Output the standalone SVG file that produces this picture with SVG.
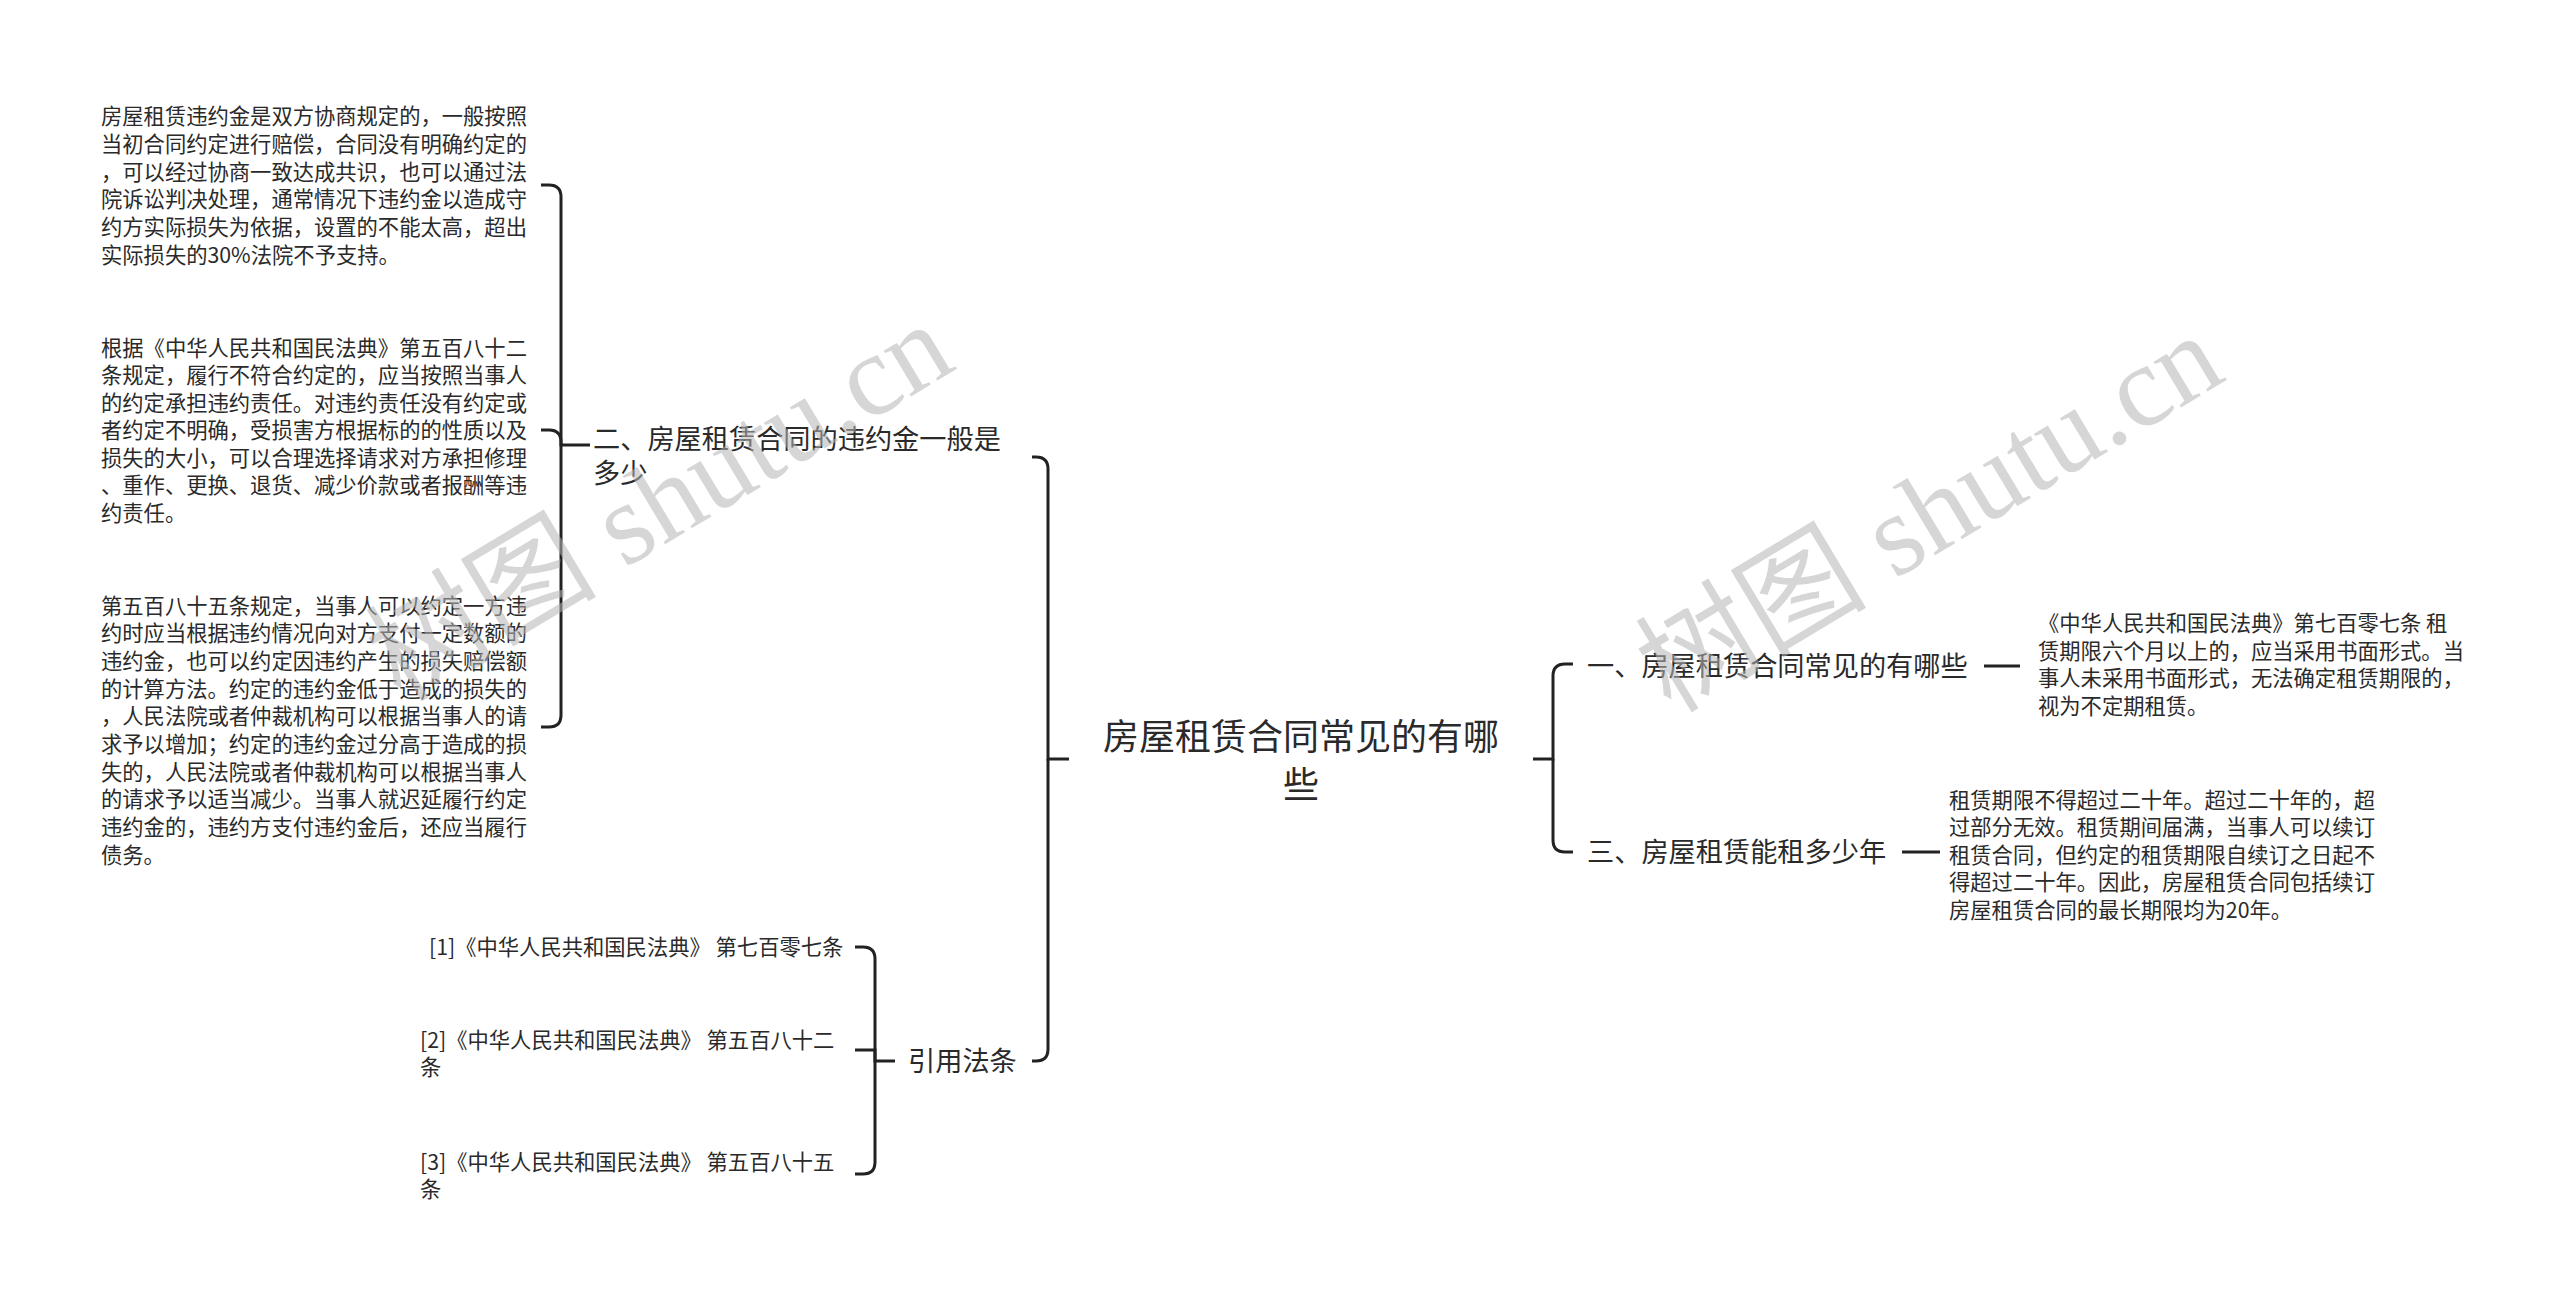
<svg xmlns="http://www.w3.org/2000/svg" width="2560" height="1304" viewBox="0 0 2560 1304">
<style>
.t{font-family:"Noto Sans CJK SC","Noto Sans",sans-serif;fill:#2a2a2a}
.root{font-size:36px}
.sub{font-size:27.2px}
.leaf{font-size:21.3px}
.c{fill:none;stroke:#222;stroke-width:3;stroke-linecap:butt}
.wm{font-family:"Liberation Serif","Noto Sans CJK SC",serif;font-size:116px;fill:#b4b4b4;fill-opacity:0.55}
</style>
<rect width="2560" height="1304" fill="#ffffff"/>
<g id="connectors">
<path class="c" d="M1069 759 H1048 V469 Q1048 457 1036 457 H1032"/>
<path class="c" d="M1048 759 V1049 Q1048 1061 1036 1061 H1032"/>
<path class="c" d="M1533 759 H1553 V676 Q1553 664 1565 664 H1573"/>
<path class="c" d="M1553 759 V840 Q1553 852 1565 852 H1573"/>
<path class="c" d="M590 445 H561 V197 Q561 185 549 185 H541"/>
<path class="c" d="M561 445 V442 Q561 430 549 430 H541"/>
<path class="c" d="M561 445 V715 Q561 727 549 727 H541"/>
<path class="c" d="M895 1061 H875 V959 Q875 947 863 947 H855"/>
<path class="c" d="M875 1061 V1050 H855"/>
<path class="c" d="M875 1061 V1162 Q875 1174 863 1174 H855"/>
<path class="c" d="M1984 666 H2020"/>
<path class="c" d="M1902 852 H1940"/>
</g>
<g id="root">
<text class="t root" text-anchor="middle" x="1301" y="750">房屋租赁合同常见的有哪</text>
<text class="t root" text-anchor="middle" x="1301" y="798">些</text>
</g>
<g id="n2">
<text class="t sub" x="593" y="449">二、房屋租赁合同的违约金一般是</text>
<text class="t sub" x="593" y="483">多少</text>
</g>
<g id="n2-leaf1">
<text class="t leaf" x="101" y="124">房屋租赁违约金是双方协商规定的，一般按照</text>
<text class="t leaf" x="101" y="151.8">当初合同约定进行赔偿，合同没有明确约定的</text>
<text class="t leaf" x="101" y="179.6">，可以经过协商一致达成共识，也可以通过法</text>
<text class="t leaf" x="101" y="207.4">院诉讼判决处理，通常情况下违约金以造成守</text>
<text class="t leaf" x="101" y="235.2">约方实际损失为依据，设置的不能太高，超出</text>
<text class="t leaf" x="101" y="263">实际损失的30%法院不予支持。</text>
</g>
<g id="n2-leaf2">
<text class="t leaf" x="101" y="355.5">根据《中华人民共和国民法典》第五百八十二</text>
<text class="t leaf" x="101" y="383">条规定，履行不符合约定的，应当按照当事人</text>
<text class="t leaf" x="101" y="410.5">的约定承担违约责任。对违约责任没有约定或</text>
<text class="t leaf" x="101" y="438">者约定不明确，受损害方根据标的的性质以及</text>
<text class="t leaf" x="101" y="465.5">损失的大小，可以合理选择请求对方承担修理</text>
<text class="t leaf" x="101" y="493">、重作、更换、退货、减少价款或者报酬等违</text>
<text class="t leaf" x="101" y="520.5">约责任。</text>
</g>
<g id="n2-leaf3">
<text class="t leaf" x="101" y="613.5">第五百八十五条规定，当事人可以约定一方违</text>
<text class="t leaf" x="101" y="641.2">约时应当根据违约情况向对方支付一定数额的</text>
<text class="t leaf" x="101" y="668.9">违约金，也可以约定因违约产生的损失赔偿额</text>
<text class="t leaf" x="101" y="696.6">的计算方法。约定的违约金低于造成的损失的</text>
<text class="t leaf" x="101" y="724.3">，人民法院或者仲裁机构可以根据当事人的请</text>
<text class="t leaf" x="101" y="752">求予以增加；约定的违约金过分高于造成的损</text>
<text class="t leaf" x="101" y="779.7">失的，人民法院或者仲裁机构可以根据当事人</text>
<text class="t leaf" x="101" y="807.4">的请求予以适当减少。当事人就迟延履行约定</text>
<text class="t leaf" x="101" y="835.1">违约金的，违约方支付违约金后，还应当履行</text>
<text class="t leaf" x="101" y="862.8">债务。</text>
</g>
<g id="refs">
<text class="t sub" x="908" y="1071">引用法条</text>
</g>
<g id="ref1">
<text class="t leaf" x="429" y="954.5">[1]《中华人民共和国民法典》 第七百零七条</text>
</g>
<g id="ref2">
<text class="t leaf" x="420" y="1047.5">[2]《中华人民共和国民法典》 第五百八十二</text>
<text class="t leaf" x="420" y="1075">条</text>
</g>
<g id="ref3">
<text class="t leaf" x="420" y="1169.5">[3]《中华人民共和国民法典》 第五百八十五</text>
<text class="t leaf" x="420" y="1197">条</text>
</g>
<g id="n1">
<text class="t sub" x="1587" y="676">一、房屋租赁合同常见的有哪些</text>
</g>
<g id="n1-leaf">
<text class="t leaf" x="2038" y="631">《中华人民共和国民法典》第七百零七条 租</text>
<text class="t leaf" x="2038" y="658.5">赁期限六个月以上的，应当采用书面形式。当</text>
<text class="t leaf" x="2038" y="686">事人未采用书面形式，无法确定租赁期限的，</text>
<text class="t leaf" x="2038" y="713.5">视为不定期租赁。</text>
</g>
<g id="n3">
<text class="t sub" x="1587" y="862">三、房屋租赁能租多少年</text>
</g>
<g id="n3-leaf">
<text class="t leaf" x="1949" y="807.5">租赁期限不得超过二十年。超过二十年的，超</text>
<text class="t leaf" x="1949" y="835">过部分无效。租赁期间届满，当事人可以续订</text>
<text class="t leaf" x="1949" y="862.5">租赁合同，但约定的租赁期限自续订之日起不</text>
<text class="t leaf" x="1949" y="890">得超过二十年。因此，房屋租赁合同包括续订</text>
<text class="t leaf" x="1949" y="917.5">房屋租赁合同的最长期限均为20年。</text>
</g>
<g id="watermark">
<text class="wm" text-anchor="middle" transform="translate(660,503) rotate(-31)" x="0" y="38">树图 shutu.cn</text>
<text class="wm" text-anchor="middle" transform="translate(1930,514) rotate(-31)" x="0" y="38">树图 shutu.cn</text>
</g>
</svg>
